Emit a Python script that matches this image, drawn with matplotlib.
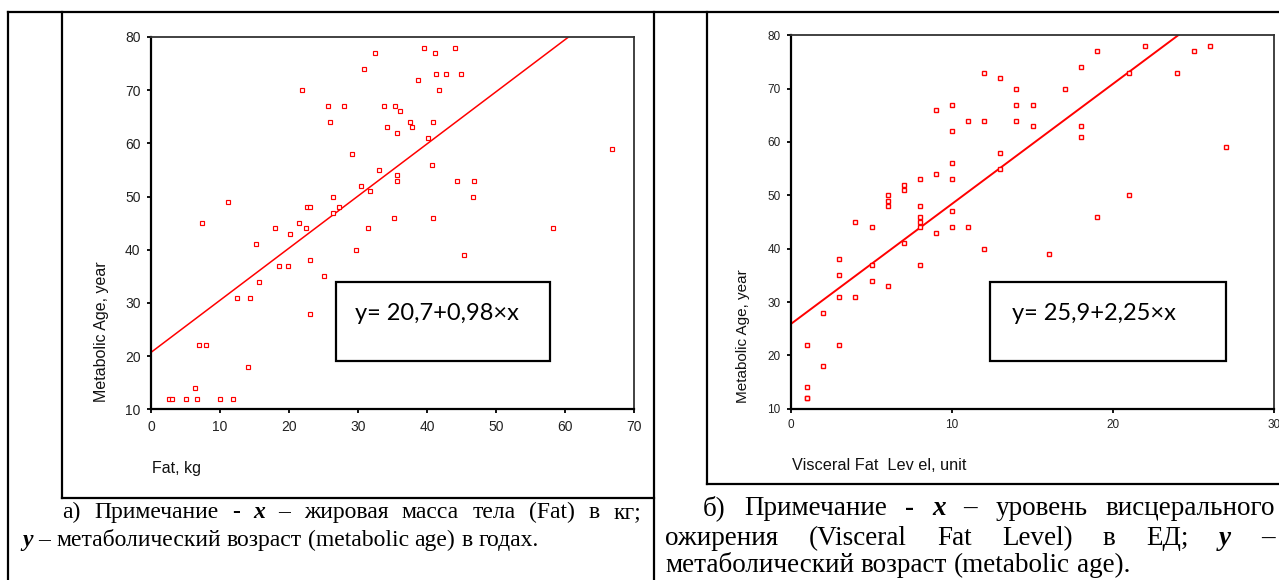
import matplotlib
matplotlib.use("Agg")
import matplotlib.pyplot as plt
from matplotlib.lines import Line2D
from matplotlib.patches import Rectangle
import numpy as np

plt.rcParams['font.family'] = ['Liberation Sans', 'DejaVu Sans']

# --- data: fat mass (kg) vs metabolic age (years)
fat_kg = [2.6, 3.1, 5.0, 6.7, 10.0, 11.9, 6.4, 14.1, 6.9, 7.9, 12.4, 14.3, 15.7,
          18.6, 19.8, 15.2, 7.4, 11.2, 17.9, 20.2, 21.4, 22.4, 22.6, 23.1, 21.9,
          25.7, 25.9, 28.0, 29.2, 26.4, 26.4, 27.3, 29.7, 30.4, 31.8, 23.1, 25.0,
          23.1, 32.4, 30.9, 39.5, 41.2, 44.0, 38.7, 41.3, 42.8, 44.9, 41.8, 33.8,
          35.4, 36.1, 34.2, 35.7, 37.6, 37.8, 40.9, 40.2, 33.0, 40.7, 35.7, 35.7,
          44.4, 46.8, 46.6, 35.2, 40.9, 31.4, 58.3, 66.8, 45.4]
age_fat = [12, 12, 12, 12, 12, 12, 14, 18, 22, 22, 31, 31, 34,
           37, 37, 41, 45, 49, 44, 43, 45, 44, 48, 48, 70,
           67, 64, 67, 58, 50, 47, 48, 40, 52, 51, 38, 35,
           28, 77, 74, 78, 77, 78, 72, 73, 73, 73, 70, 67,
           67, 66, 63, 62, 64, 63, 64, 61, 55, 56, 54, 53,
           53, 53, 50, 46, 46, 44, 44, 59, 39]

# --- data: visceral fat level (units) vs metabolic age (years)
visceral = [1, 1, 1, 1, 2, 2, 3, 3, 3, 3, 4, 4, 5, 5, 5, 6, 6, 6, 6,
            7, 7, 7, 8, 8, 8, 8, 8, 8, 9, 9, 9, 10, 10, 10, 10, 10, 10,
            11, 11, 12, 12, 12, 13, 13, 13, 14, 14, 14, 15, 15, 16, 17,
            18, 18, 18, 19, 19, 21, 21, 22, 24, 25, 26, 27]
age_visc = [22, 14, 12, 12, 28, 18, 38, 35, 31, 22, 31, 45, 37, 34, 44, 33, 50, 49, 48,
            52, 51, 41, 53, 48, 46, 45, 44, 37, 66, 54, 43, 67, 62, 56, 53, 47, 44,
            64, 44, 73, 64, 40, 72, 58, 55, 70, 67, 64, 67, 63, 39, 70,
            74, 63, 61, 77, 46, 73, 50, 78, 73, 77, 78, 59]

# regression coefficients (intercept, slope)
fit_fat = (20.7, 0.98)
fit_visc = (25.9, 2.25)
eq_fat = "y= 20,7+0,98×x"
eq_visc = "y= 25,9+2,25×x"

yticks = [10, 20, 30, 40, 50, 60, 70, 80]
xticks_fat = [0, 10, 20, 30, 40, 50, 60, 70]
xticks_visc = [0, 10, 20, 30]

W, H = 1279, 580
fig = plt.figure(figsize=(W / 100, H / 100), dpi=100)


def fx(px):
    return px / W


def fy(py):
    return 1 - py / H


def hline(x0, x1, y, lw=1.6):
    fig.add_artist(Line2D([fx(x0), fx(x1)], [fy(y), fy(y)], color='black',
                          lw=lw, transform=fig.transFigure, solid_capstyle='projecting'))


def vline(x, y0, y1, lw=1.6):
    fig.add_artist(Line2D([fx(x), fx(x)], [fy(y0), fy(y1)], color='black',
                          lw=lw, transform=fig.transFigure, solid_capstyle='projecting'))


def add_axes_px(left, top, right, bottom):
    return fig.add_axes([fx(left), fy(bottom), fx(right - left), (bottom - top) / H])


def style_axes(ax, xlim, xticks, tick_fs, pad):
    ax.set_xlim(*xlim)
    ax.set_ylim(10, 80)
    ax.set_xticks(xticks)
    ax.set_yticks(yticks)
    for s in ('left', 'bottom'):
        ax.spines[s].set_linewidth(1.6)
        ax.spines[s].set_color('black')
    for s in ('top', 'right'):
        ax.spines[s].set_linewidth(1.3)
        ax.spines[s].set_color('#333333')
    ax.tick_params(direction='out', length=3, width=1.3, labelsize=tick_fs,
                   pad=pad, colors='black', labelcolor='#222222')


def scatter_fit(ax, x, y, fit, xmax, ms, mew, lw):
    ax.plot(x, y, linestyle='none', marker='s', ms=ms, mew=mew,
            mec='#ff0000', mfc='white', zorder=3, clip_on=False)
    xs = np.array([0.0, xmax])
    ax.plot(xs, fit[0] + fit[1] * xs, color='#ff0000', lw=lw, zorder=2)


def eq_box(left, top, right, bottom, text, tx, ty):
    fig.add_artist(Rectangle((fx(left), fy(bottom)), fx(right - left), (bottom - top) / H,
                             transform=fig.transFigure, fill=False, ec='black', lw=1.6))
    fig.text(fx(tx), fy(ty), text, fontsize=17, family=['Lato', 'DejaVu Sans'],
             ha='left', va='baseline', color='black')


# ---- table frame
hline(8, 1279, 11.7)
vline(8.3, 11.7, 580)
vline(654, 11.7, 580)

# ---- chart frames
vline(62, 11.7, 498)
hline(62, 654, 498)
vline(706.7, 11.7, 484)
hline(706.7, 1279, 484)

# ---- left chart
ax1 = add_axes_px(151, 37, 634, 409.3)
style_axes(ax1, (0, 70), xticks_fat, 10, 4.5)
scatter_fit(ax1, fat_kg, age_fat, fit_fat, 70, 2.4, 0.85, 1.1)
fig.text(fx(101.5), fy(332), "Metabolic Age, year", rotation=90, fontsize=11.5,
         ha='center', va='center', color='#111111')
fig.text(fx(151.5), fy(468), "Fat, kg", fontsize=11.5, ha='left', va='center',
         color='#111111')
eq_box(335.7, 281.7, 550, 361, eq_fat, 355, 320)

# ---- right chart
ax2 = add_axes_px(791, 35.3, 1274, 408.7)
style_axes(ax2, (0, 30), xticks_visc, 8.5, 4.5)
scatter_fit(ax2, visceral, age_visc, fit_visc, 30, 2.6, 1.0, 1.4)
fig.text(fx(743), fy(336), "Metabolic Age, year", rotation=90, fontsize=11,
         ha='center', va='center', color='#111111')
fig.text(fx(791.5), fy(465), "Visceral Fat  Lev el, unit", fontsize=11.7, ha='left',
         va='center', color='#111111')
eq_box(990.3, 281.7, 1225.7, 361, eq_visc, 1011.7, 320)

# ---- captions (justified, Times-like serif)
renderer = fig.canvas.get_renderer()


def cap_word(word, kind, size):
    kw = dict(fontsize=size, family=['Liberation Serif', 'DejaVu Serif'],
              ha='left', va='baseline', color='black')
    if kind == 'bi':
        kw.update(weight='bold', style='italic')
    elif kind == 'b':
        kw.update(weight='bold')
    return fig.text(0, 0, word, **kw)


def space_width(size):
    a = cap_word("n n", 'n', size)
    b = cap_word("nn", 'n', size)
    w = a.get_window_extent(renderer).width - b.get_window_extent(renderer).width
    a.remove()
    b.remove()
    return w


def caption_line(words, x0, x1, base, size, justify=True):
    texts = [cap_word(w, k, size) for w, k in words]
    widths = [t.get_window_extent(renderer).width for t in texts]
    if justify and len(texts) > 1:
        gap = (x1 - x0 - sum(widths)) / (len(texts) - 1)
    else:
        gap = space_width(size)
    x = x0
    for t, w in zip(texts, widths):
        t.set_position((fx(x), fy(base)))
        x += w + gap


LEFT_FS = 17
RIGHT_FS = 19.5

caption_line([("а)", 'n'), ("Примечание", 'n'), ("-", 'b'), ("x", 'bi'), ("–", 'n'),
              ("жировая", 'n'), ("масса", 'n'), ("тела", 'n'), ("(Fat)", 'n'),
              ("в", 'n'), ("кг;", 'n')], 62, 641, 518, LEFT_FS)
caption_line([("y", 'bi'), ("–", 'n'), ("метаболический", 'n'), ("возраст", 'n'),
              ("(metabolic", 'n'), ("age)", 'n'), ("в", 'n'), ("годах.", 'n')],
             22, 641, 546, LEFT_FS, justify=False)

caption_line([("б)", 'n'), ("Примечание", 'n'), ("-", 'b'), ("x", 'bi'), ("–", 'n'),
              ("уровень", 'n'), ("висцерального", 'n')], 703, 1275, 515, RIGHT_FS)
caption_line([("ожирения", 'n'), ("(Visceral", 'n'), ("Fat", 'n'), ("Level)", 'n'),
              ("в", 'n'), ("ЕД;", 'n'), ("y", 'bi'), ("–", 'n')], 665, 1275, 545, RIGHT_FS)
caption_line([("метаболический", 'n'), ("возраст", 'n'), ("(metabolic", 'n'),
              ("age).", 'n')], 665, 1275, 572, RIGHT_FS, justify=False)

fig.savefig("out.png", dpi=100, facecolor='white')
